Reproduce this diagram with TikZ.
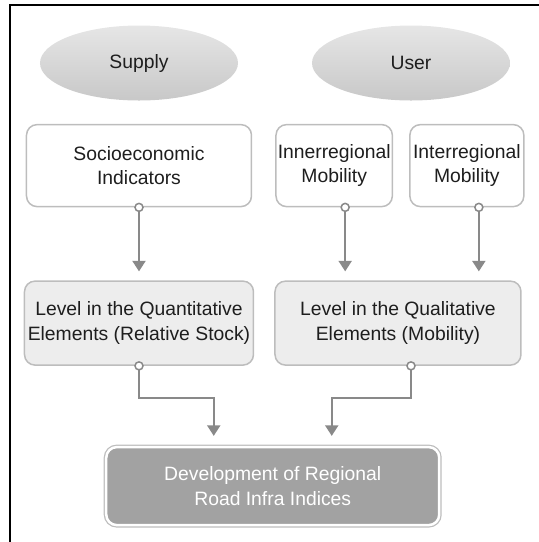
\documentclass[tikz,border=0pt]{standalone}
\usepackage{fontspec}
\setmainfont{Liberation Sans}
\usetikzlibrary{positioning,calc,shapes.geometric,arrows.meta}
\definecolor{Frame}{HTML}{000000}
\definecolor{Border}{HTML}{BDBDBD}
\definecolor{Link}{HTML}{898989}
\definecolor{Light}{HTML}{EDEDED}
\definecolor{Dark}{HTML}{A2A2A2}
\definecolor{EllTop}{HTML}{E6E6E6}
\definecolor{EllBottom}{HTML}{C8C8C8}
\definecolor{Ink}{HTML}{1E1E1E}

\begin{document}
\begin{tikzpicture}[
			node distance=0.46cm and 0.46cm,
			font=\fontsize{11}{14}\selectfont,
			topic/.style={ellipse, minimum width=3.96cm, minimum height=1.5cm,
				top color=EllTop, bottom color=EllBottom, text=Ink},
			factor/.style={draw=Border, line width=0.03cm, fill=white,
				rounded corners=6pt, minimum height=1.64cm, align=center,
				inner sep=1pt, text=Ink},
			level/.style={factor, fill=Light, minimum height=1.68cm},
			result/.style={fill=Dark, draw=white, line width=0.05cm,
				rounded corners=6pt, preaction={draw=Border, line width=0.1cm},
				minimum width=6.66cm, minimum height=1.56cm, align=center,
				text=white},
			link/.style={draw=Link, line width=0.04cm,
				-{Triangle[length=0.21cm,width=0.26cm]}},
			port/.style={draw=Link, fill=white, line width=0.03cm}
			]
			
			\useasboundingbox (0,0) rectangle (10.78,-10.84);
			
			% Frame (top and left edge)
			\draw[Frame, line width=0.04cm] (0.2,-10.84) |- (10.78,-0.1);
			
			% Supply and User
			\node[topic] (supply) at (2.78,-1.26) {Supply};
			\node[topic] (user) at (8.22,-1.26) {User};
			
			% Indicators
			\node[factor, minimum width=4.5cm, below=of supply]
			(socio) {Socioeconomic\\Indicators};
			\node[factor, minimum width=2.32cm, right=of socio]
			(inner) {Innerregional\\Mobility};
			\node[factor, minimum width=2.28cm, right=0.32cm of inner]
			(inter) {Interregional\\Mobility};
			
			% Levels
			\node[level, minimum width=4.58cm, below=1.46cm of socio]
			(quant) {Level in the Quantitative\\Elements (Relative Stock)};
			\node[level, minimum width=4.92cm, right=0.4cm of quant]
			(qual) {Level in the Qualitative\\Elements (Mobility)};
			
			% Indices
			\coordinate (mid) at ($(quant.south west)!0.5!(qual.south east)$);
			\node[result, below=1.6cm of mid]
			(dev) {Development of Regional\\Road Infra Indices};
			
			% Ports and entry points
			\coordinate (innerout) at ([xshift=0.22cm]inner.south);
			\coordinate (interout) at ([xshift=0.24cm]inter.south);
			\coordinate (qualout) at ([xshift=0.26cm]qual.south);
			\coordinate (devleft) at ([xshift=-1.18cm]dev.north);
			\coordinate (devright) at ([xshift=1.18cm]dev.north);
			
			% Links
			\draw[link] (socio.south) -- ([yshift=0.18cm]socio.south |- quant.north);
			\draw[link] (innerout) -- ([yshift=0.18cm]innerout |- qual.north);
			\draw[link] (interout) -- ([yshift=0.18cm]interout |- qual.north);
			\draw[link] (quant.south) -- ++(0,-0.64) -| ([yshift=0.2cm]devleft);
			\draw[link] (qualout) -- ++(0,-0.64) -| ([yshift=0.2cm]devright);
			
			\foreach \p in {socio.south, innerout, interout, quant.south, qualout}
			\draw[port] (\p) circle (0.08cm);
			
		\end{tikzpicture}
\end{document}
